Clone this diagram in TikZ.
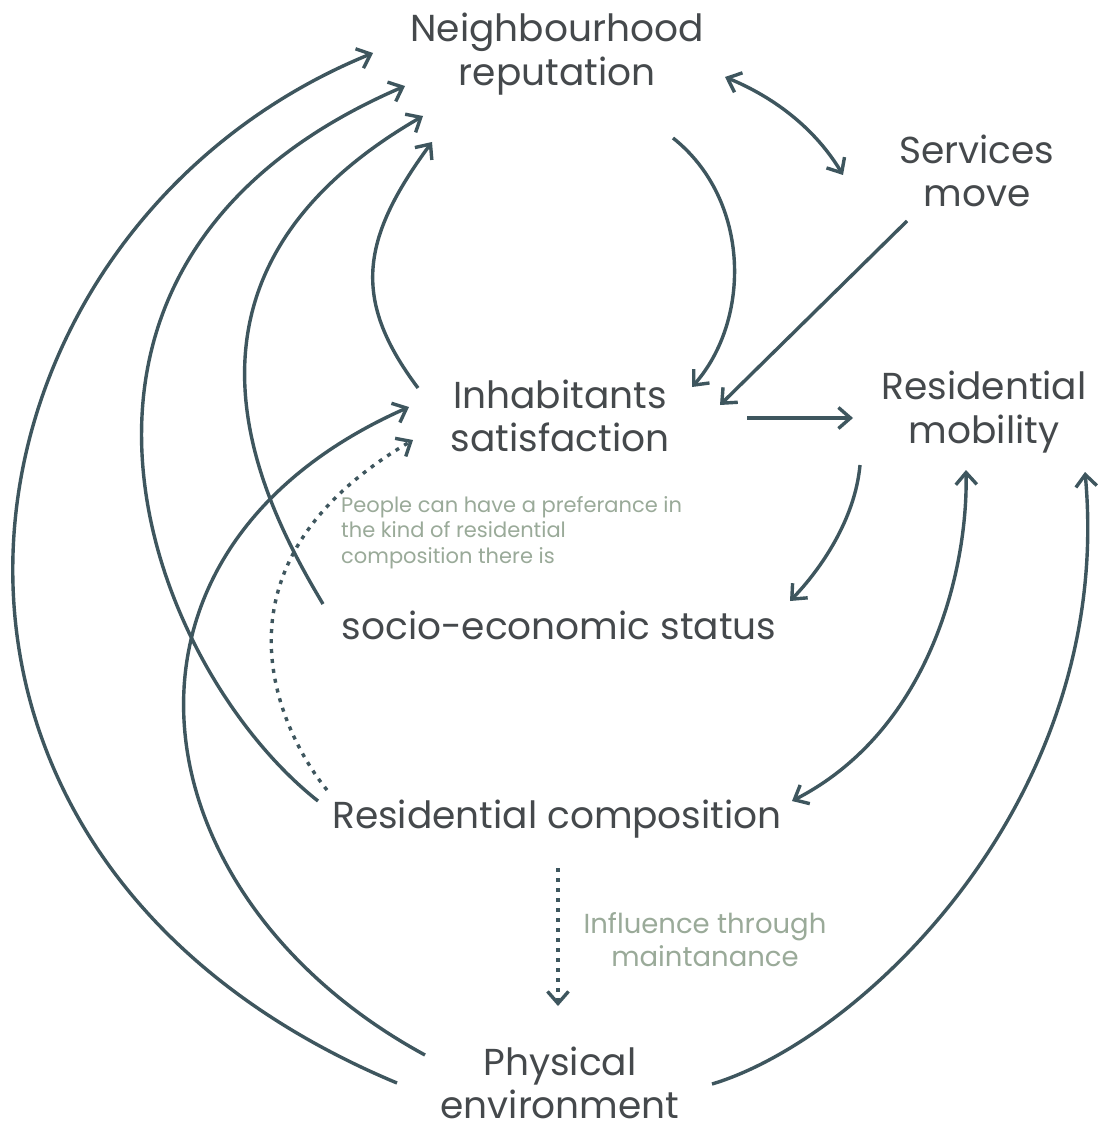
\documentclass[tikz,border=0pt]{standalone}
\usepackage{fontspec}
\setmainfont{Poppins}
\usetikzlibrary{arrows.meta}
\definecolor{linec}{HTML}{3E565E}
\definecolor{textc}{HTML}{45494C}
\definecolor{notec}{HTML}{9AAA99}
\begin{document}
\begin{tikzpicture}[x=1pt,y=-1pt,
  lbl/.style={text=textc, font=\fontsize{37.5}{43.5}\selectfont, align=center, inner sep=0pt},
  note/.style={text=notec, font=\fontsize{21}{25.5}\selectfont, inner sep=0pt},
  notebig/.style={text=notec, font=\fontsize{27.5}{33}\selectfont, inner sep=0pt},
  tip/.style={-{Straight Barb[length=12pt,width=21pt]}},
  link/.style={draw=linec, line width=3.4pt, tip},
  dlink/.style={draw=linec, line width=3.4pt, {Straight Barb[length=12pt,width=21pt]}-{Straight Barb[length=12pt,width=21pt]}},
  dotlink/.style={link, dash pattern=on 4pt off 6pt}]
\fill[white] (0,0) rectangle (1097,1126);
\useasboundingbox (0,0) rectangle (1097,1126);

% nodes
\node[lbl] (nbhd) at (557,54) {Neighbourhood\\reputation};
\node[lbl] (serv) at (977,171) {Services\\move};
\node[lbl] (inhab) at (560,416) {Inhabitants\\satisfaction};
\node[lbl] (mob) at (984,412) {Residential\\mobility};
\node[lbl] (ses) at (559,625) {socio-economic status};
\node[lbl] (comp) at (557,819) {Residential composition};
\node[lbl] (phys) at (560,1083) {Physical\\environment};
\node[note, anchor=north west, align=left] (pref) at (341,496) {People can have a preferance in\\the kind of residential\\composition there is};
\node[notebig, anchor=north, align=center] (maint) at (705,912) {Influence through\\maintanance};

% end points of connectors
\coordinate (nbhdA) at (673,138);
\coordinate (nbhdB) at (725,77);
\coordinate (nbhdL1) at (373,53);
\coordinate (nbhdL2) at (405,86);
\coordinate (nbhdL3) at (423,116);
\coordinate (nbhdL4) at (432,142);
\coordinate (servA) at (843,175);
\coordinate (servB) at (907,221);
\coordinate (inhabA) at (692,387);
\coordinate (inhabB) at (720,405);
\coordinate (inhabC) at (747,418);
\coordinate (inhabD) at (418,388);
\coordinate (inhabE) at (409,407);
\coordinate (inhabF) at (413,440);
\coordinate (mobA) at (853,418);
\coordinate (mobB) at (860,465);
\coordinate (mobC) at (966,470);
\coordinate (mobD) at (1085,472);
\coordinate (sesA) at (790,601);
\coordinate (sesB) at (323,604);
\coordinate (compA) at (792,801);
\coordinate (compB) at (318,801);
\coordinate (compC) at (327,790);
\coordinate (compD) at (558,868);
\coordinate (physA) at (558,1006);
\coordinate (physB) at (712,1084);
\coordinate (physC) at (397,1083);
\coordinate (physD) at (425,1055);

% connectors
\draw[link] (nbhdA) .. controls (751,200) and (751,320) .. (inhabA);
\draw[dlink] (nbhdB) .. controls (776,98) and (816,130) .. (servA);
\draw[link] (servB) -- (inhabB);
\draw[link] (inhabC) -- (mobA);
\draw[link] (mobB) .. controls (855,520) and (820,570) .. (sesA);
\draw[dlink] (mobC) .. controls (968,570) and (930,730) .. (compA);
\draw[link] (physB) .. controls (860,1040) and (1115,800) .. (mobD);
\draw[link] (physC) .. controls (-160,850) and (-60,230) .. (nbhdL1);
\draw[link] (compB) .. controls (148,667) and (-8,264) .. (nbhdL2);
\draw[link] (sesB) .. controls (259,497) and (146,276) .. (nbhdL3);
\draw[link] (inhabD) .. controls (352,300) and (360,240) .. (nbhdL4);
\draw[link] (physD) .. controls (134,897) and (81,552) .. (inhabE);
\draw[dotlink] (compC) .. controls (286,740) and (192,570) .. (inhabF);
\draw[dotlink] (compD) -- (physA);
\end{tikzpicture}
\end{document}
